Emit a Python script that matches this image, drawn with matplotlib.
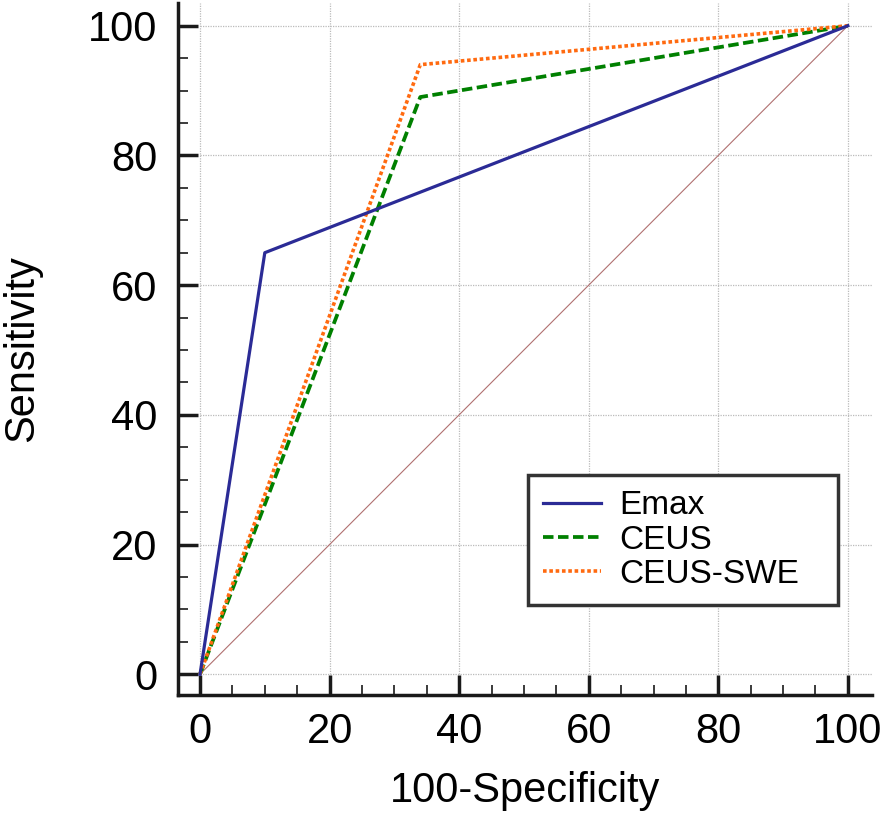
import numpy as np
import matplotlib
matplotlib.use('Agg')
import matplotlib.pyplot as plt

plt.rcParams['font.family'] = ['Liberation Sans', 'DejaVu Sans']

# ROC points (100-Specificity, Sensitivity)
emax_x = [0, 10, 100]
emax_y = [0, 65, 100]
ceus_x = [0, 34, 100]
ceus_y = [0, 89, 100]
swe_x = [0, 34, 100]
swe_y = [0, 94, 100]
diag = [0, 100]

ticks = [0, 20, 40, 60, 80, 100]
minor = np.arange(0, 101, 5)

fig = plt.figure(figsize=(8.86, 8.21), dpi=100)
ax = fig.add_axes([0.2009, 0.1535, 0.7831, 0.8428])

xmin, xmax = -3.4, 103.7
ymin, ymax = -3.2, 103.5

# grid only over the data range
for t in ticks:
    ax.plot([0, xmax], [t, t], color='#bbbbbb', lw=0.9, ls=(0, (1, 1)), zorder=0)
    ax.plot([t, t], [0, ymax], color='#bbbbbb', lw=0.9, ls=(0, (1, 1)), zorder=0)

ax.plot(diag, diag, color='#b07070', lw=0.8, zorder=1)
ax.plot(emax_x, emax_y, color='#2b2b96', lw=2.3, label='Emax', zorder=4)
ax.plot(ceus_x, ceus_y, color='#008000', lw=2.7, ls=(0, (2.8, 1.2)), label='CEUS', zorder=3)
ax.plot(swe_x, swe_y, color='#ff6a10', lw=2.6, ls=(0, (1, 0.75)), label='CEUS-SWE', zorder=3)

ax.set_xlim(xmin, xmax)
ax.set_ylim(ymin, ymax)
ax.set_xticks(ticks)
ax.set_yticks(ticks)
ax.set_xticks(minor, minor=True)
ax.set_yticks(minor, minor=True)

ax.spines['top'].set_visible(False)
ax.spines['right'].set_visible(False)
ax.spines['left'].set_linewidth(2.5)
ax.spines['bottom'].set_linewidth(2.5)
ax.spines['left'].set_color('#1a1a1a')
ax.spines['bottom'].set_color('#1a1a1a')

ax.tick_params(which='major', direction='in', length=14.5, width=2.5, color='#1a1a1a',
               labelsize=30, pad=12)
ax.tick_params(which='minor', direction='in', length=7, width=1.2, color='#1a1a1a')
ax.tick_params(axis='y', which='major', pad=15)

ax.set_xlabel('100-Specificity', fontsize=30, labelpad=14)
ax.set_ylabel('Sensitivity', fontsize=30, labelpad=33)

leg = ax.legend(loc='lower left', bbox_to_anchor=(0.504, 0.130, 0.447, 0.19),
                mode='expand', fontsize=24, framealpha=1,
                frameon=True, fancybox=False, handlelength=1.75, handletextpad=0.55,
                borderpad=0.45, labelspacing=0.1, borderaxespad=0)
leg.get_frame().set_edgecolor('#333333')
leg.get_frame().set_linewidth(2.5)

fig.savefig('out.png', dpi=100)
